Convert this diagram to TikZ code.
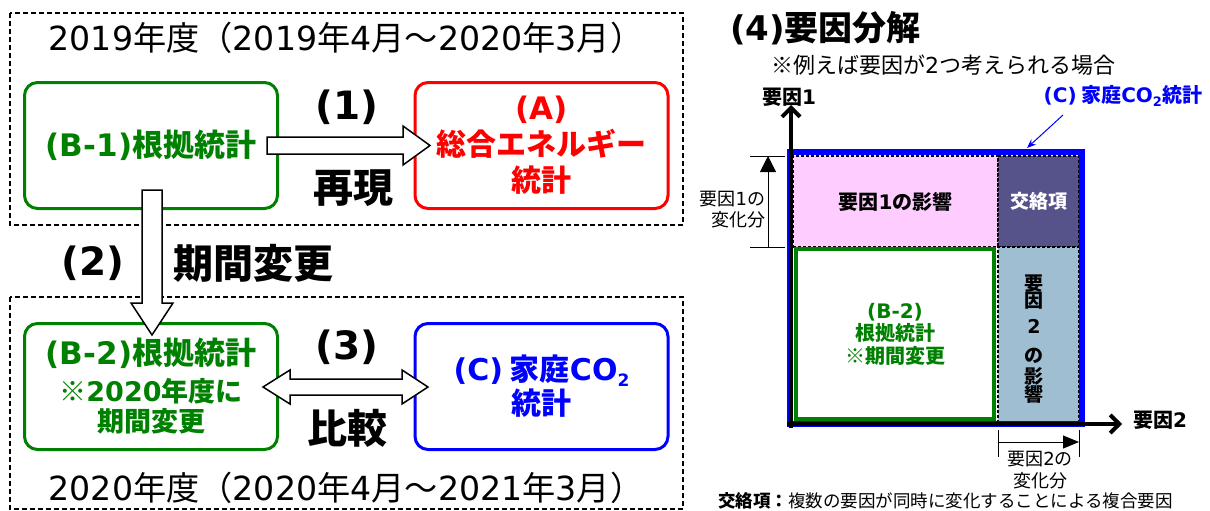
\documentclass[tikz,border=0pt]{standalone}
\usepackage{fontspec}
\setmainfont{Noto Sans CJK JP}
\newfontfamily\latf{DejaVu Sans}
\usetikzlibrary{arrows.meta}
\definecolor{grn}{RGB}{0,128,0}
\definecolor{rd}{RGB}{255,0,0}
\definecolor{bl}{RGB}{0,0,255}
\definecolor{pinkf}{RGB}{255,204,255}
\definecolor{purp}{RGB}{86,82,138}
\definecolor{lblue}{RGB}{160,190,210}
\newcommand\fsz[1]{\fontsize{#1}{#1}\selectfont}
\newcommand\subtwo[1]{\raisebox{-0.2em}{\fontsize{#1}{#1}\selectfont 2}}
\lineskiplimit=-100pt
\begin{document}
\begin{tikzpicture}[x=1pt,y=-1pt,
  every node/.style={inner sep=0pt,outer sep=0pt},
  outerbox/.style={draw,dash pattern=on 5pt off 3pt,line width=1.5pt},
  rbox/.style={draw=#1,text=#1,line width=3pt,rounded corners=13pt,fill=white,
    minimum width=253pt,minimum height=126pt,align=center},
  blockarrow/.style={draw,fill=white,line width=1.5pt,line join=miter},
  numlabel/.style={font=\bfseries\latf\fsz{39}},
  biglabel/.style={font=\bfseries\fsz{40}},
  region/.style={draw,dash pattern=on 3pt off 2pt,line width=1.2pt,align=center},
  dimline/.style={line width=1pt},
  axis/.style={line width=4pt,-{Straight Barb[length=9pt,width=18pt]}}
]
\useasboundingbox (0,0) rectangle (1210,511);
\clip (0,0) rectangle (1210,511);
\fill[white] (0,0) rectangle (1210,511);

% ---------- left part ----------
\draw[outerbox] (10,13) rectangle (683,225);
\draw[outerbox] (10,297) rectangle (683,509);

\node[font=\fsz{33.2}] (t1) at (346,38) {{\latf 2019}年度（{\latf 2019}年{\latf 4}月～{\latf 2020}年{\latf 3}月）};
\node[font=\fsz{33.2}] (t2) at (346,488) {{\latf 2020}年度（{\latf 2020}年{\latf 4}月～{\latf 2021}年{\latf 3}月）};

\node[rbox=grn,font=\bfseries\fsz{31}] (b1) at (151,145.5) {{\latf (B-1)}根拠統計};
\node[rbox=rd,font=\bfseries\fontsize{30}{36}\selectfont] (a) at (541.5,145.5)
  {{\fsz{31}\latf (A)}\\総合エネルギー\\統計};
\node[rbox=grn,font=\bfseries\fontsize{27}{30}\selectfont] (b2) at (151,386.5)
  {{\fsz{31}{\latf (B-2)}根拠統計}\\[7pt]※{\latf 2020}年度に\\期間変更};
\node[rbox=bl,font=\bfseries\fontsize{30}{34}\selectfont] (c) at (541.5,386.5)
  {{\latf (C)} 家庭{\latf CO\subtwo{17}}\\統計};

% block arrows
\draw[blockarrow] (267,137) -- (403,137) -- (403,126) -- (430,145.5) -- (403,165) -- (403,154) -- (267,154) -- cycle;
\draw[blockarrow] (142,190) -- (162,190) -- (162,303) -- (173,303) -- (152,335) -- (131,303) -- (142,303) -- cycle;
\draw[blockarrow] (263,387) -- (290,370) -- (290,379) -- (402,379) -- (402,370) -- (428,387) -- (402,404) -- (402,395) -- (290,395) -- (290,404) -- cycle;

\node[numlabel] (n1) at (347,107) {(1)};
\node[biglabel] (l1) at (353,188) {再現};
\node[numlabel] (n2) at (93,263) {(2)};
\node[biglabel] (l2) at (253,263) {期間変更};
\node[numlabel] (n3) at (347,347) {(3)};
\node[biglabel] (l3) at (347,428) {比較};

% ---------- right part ----------
\node[anchor=west,font=\bfseries\fsz{34}] (h4) at (730,28) {{\latf (4)}要因分解};
\node[font=\fsz{22}] (ex) at (943,65) {※例えば要因が{\latf 2}つ考えられる場合};
\node[font=\bfseries\fsz{20}] (y1) at (789,97) {要因{\latf 1}};
\node[font=\bfseries\fsz{20},text=bl,anchor=east] (cl) at (1202,96) {{\latf (C)} 家庭{\latf CO\subtwo{13}}統計};
\node[font=\bfseries\fsz{20},anchor=west] (x2) at (1133,420) {要因{\latf 2}};

\node[region,fill=pinkf,minimum width=205pt,minimum height=91pt,font=\bfseries\fsz{20}] (r1) at (895.5,201.5) {要因{\latf 1}の影響};
\node[region,fill=purp,minimum width=81pt,minimum height=91pt,font=\bfseries\fsz{19},text=white] (rx) at (1038.5,201.5) {交絡項};
\node[region,fill=lblue,minimum width=81pt,minimum height=175pt] (r2) at (1038.5,334.5) {};
\node[font=\bfseries\fontsize{19}{18}\selectfont,align=center,anchor=north] (r2t) at (1034,275)
  {要\\[-1pt]因\\[8pt]{\latf 2}\\[11pt]の\\[3pt]影\\響};
\node[draw=grn,line width=4pt,fill=white,minimum width=198pt,minimum height=170pt,
  text=grn,font=\bfseries\fontsize{20}{22.5}\selectfont,align=center] (g2) at (895,334)
  {{\latf (B-2)}\\根拠統計\\※期間変更};

\draw[bl,line width=6pt] (790,424) -- (790,152) -- (1082,152) -- (1082,424) -- cycle;

\draw[axis] (791,428) -- (791,105);
\draw[axis] (787,424) -- (1122,424);

\coordinate (cs) at (1063,115);
\coordinate (ce) at (1027,148);
\draw[bl,line width=1pt,-{Stealth[length=9pt,width=7pt]}] (cs) -- (ce);

% dimension for factor 1
\draw[dimline] (750,156) -- (785,156);
\draw[dimline] (750,247) -- (785,247);
\draw[dimline,-{Triangle[length=16pt,width=16pt]}] (768,247) -- (768,156);
\node[font=\fontsize{18}{21}\selectfont,align=right,anchor=east] (d1) at (765,210) {要因{\latf 1}の\\変化分};

% dimension for factor 2
\draw[dimline] (998,430) -- (998,457);
\draw[dimline] (1079,430) -- (1079,457);
\draw[dimline,-{Triangle[length=16pt,width=13pt]}] (998,442) -- (1079,442);
\node[font=\fontsize{18}{22}\selectfont,align=center] (d2) at (1040,470) {要因{\latf 2}の\\変化分};

\node[font=\fsz{17.5},anchor=west] (note) at (718,501) {{\bfseries 交絡項：}複数の要因が同時に変化することによる複合要因};
\end{tikzpicture}
\end{document}
